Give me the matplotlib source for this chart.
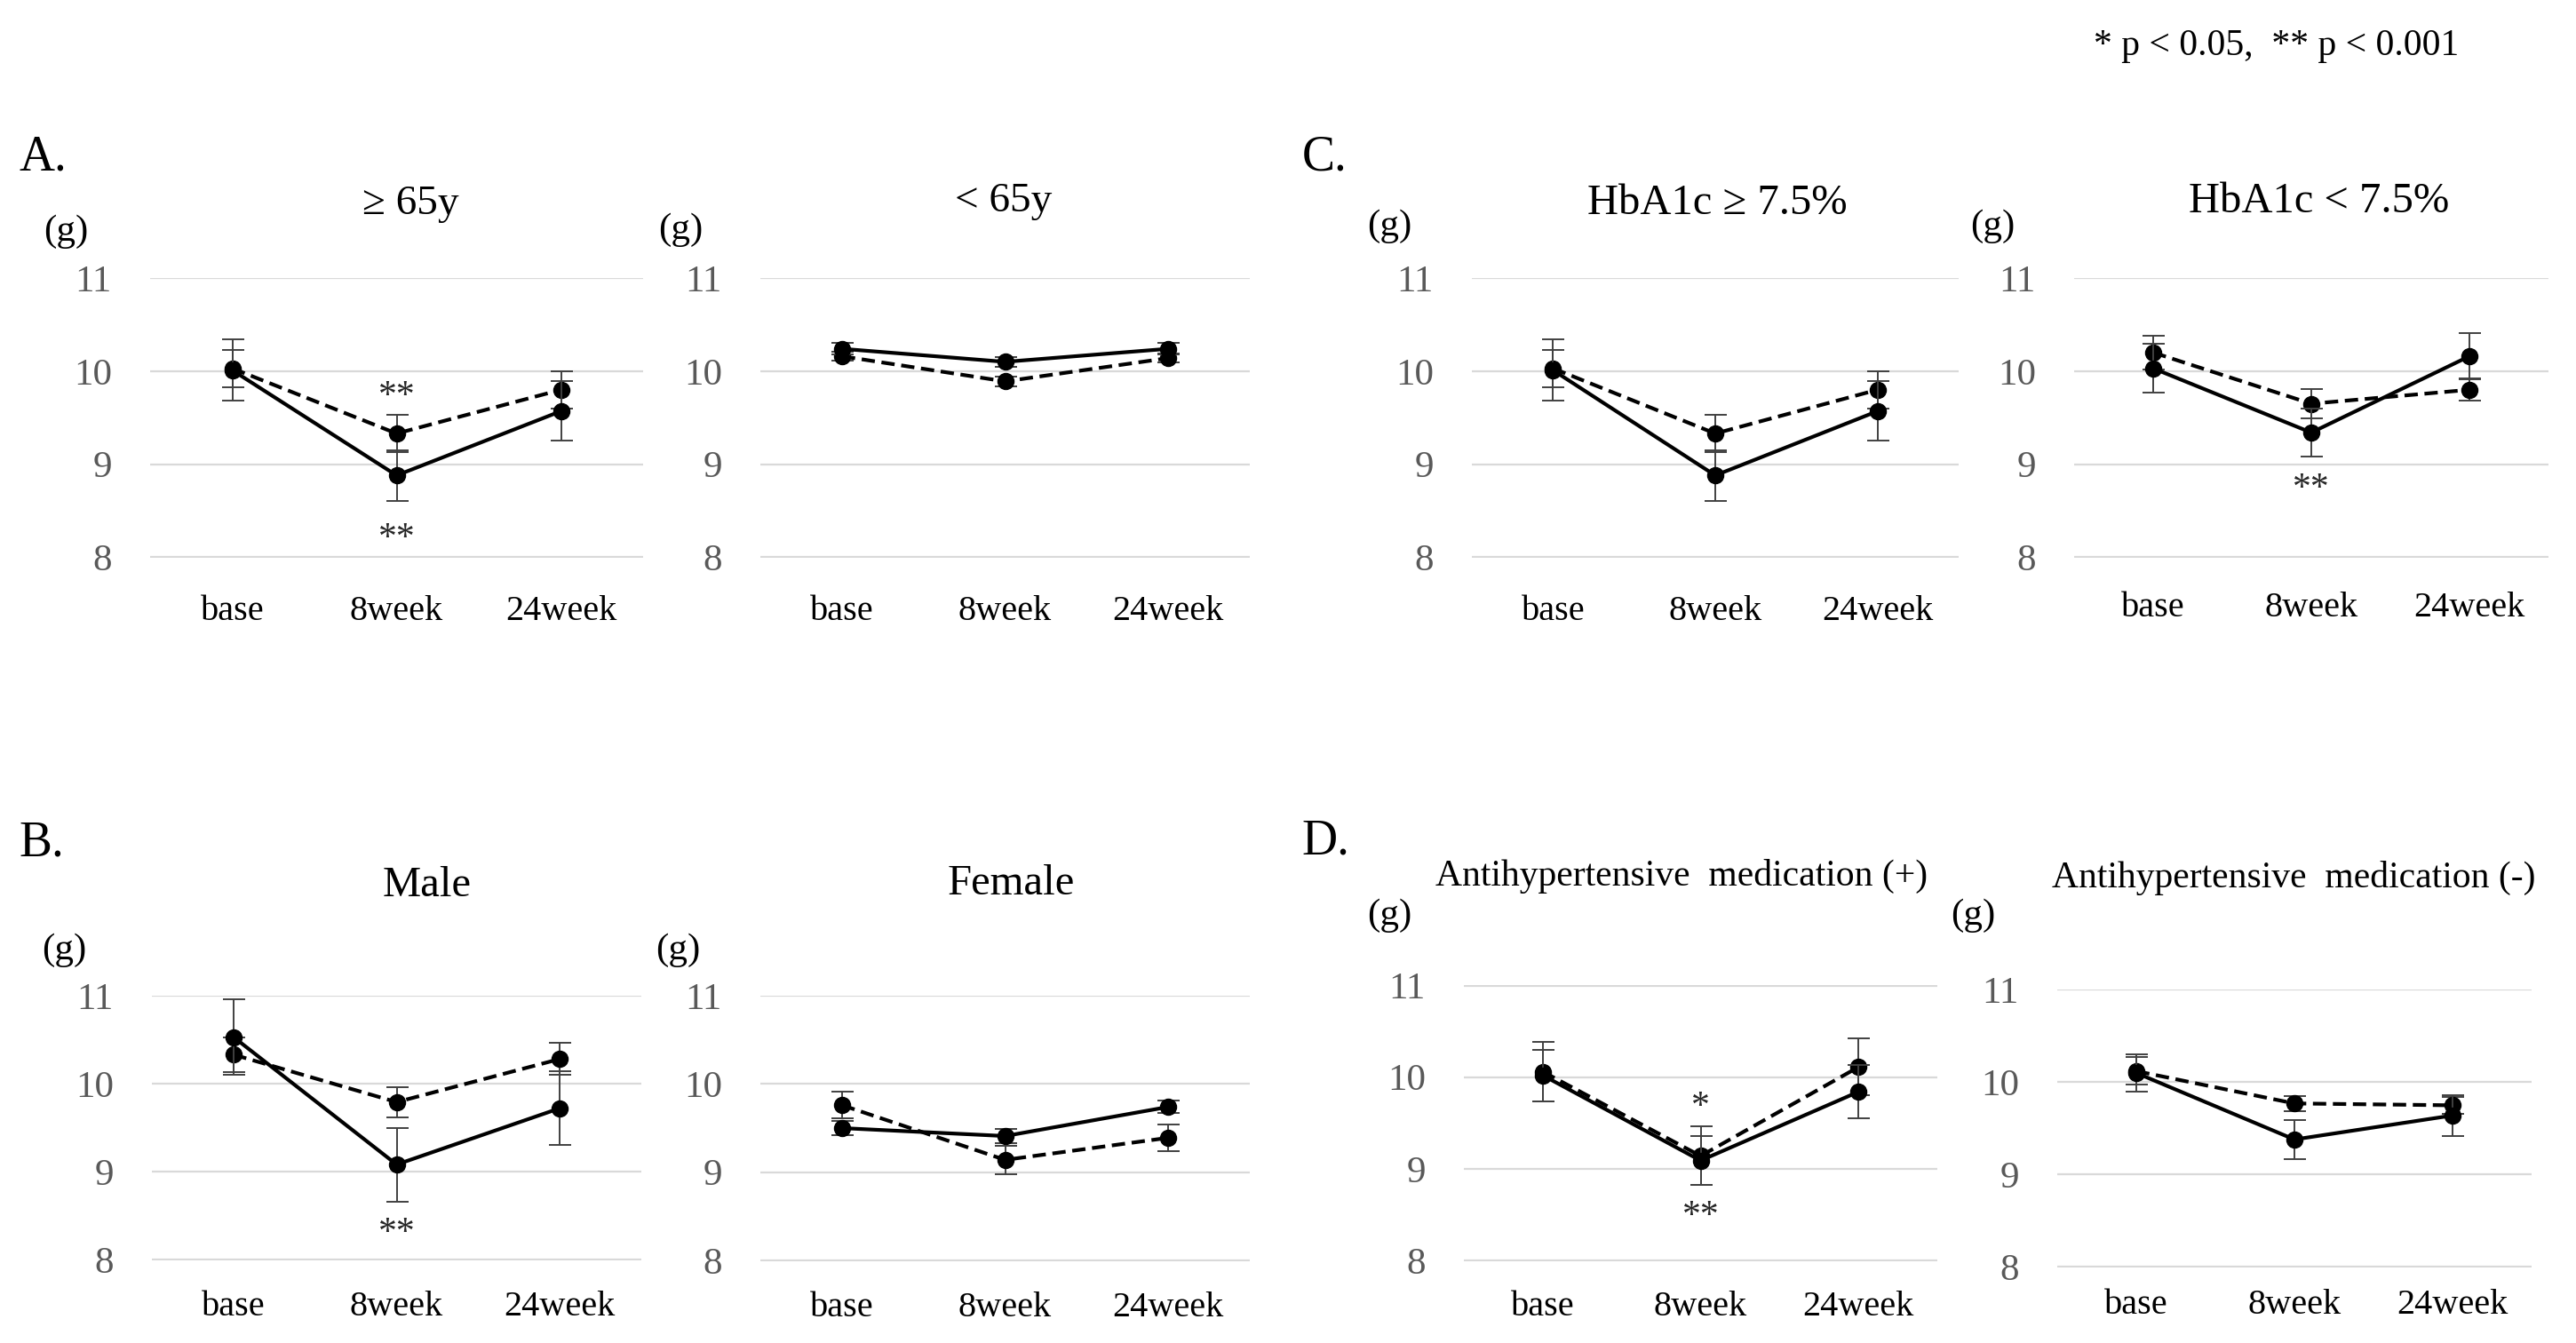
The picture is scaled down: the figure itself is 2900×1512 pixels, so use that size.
import matplotlib
matplotlib.use('Agg')
import matplotlib.pyplot as plt

plt.rcParams['font.family'] = ['Liberation Serif', 'DejaVu Serif']

W, H = 2900, 1512

timepoints = ['base', '8week', '24week']

# mean grip values (g) and error bars, solid / dashed series per panel
a1_solid = [10.01, 8.88, 9.57]
a1_solid_err = [0.33, 0.27, 0.32]
a1_dashed = [10.03, 9.33, 9.80]
a1_dashed_err = [0.20, 0.20, 0.20]

a2_solid = [10.24, 10.10, 10.24]
a2_solid_err = [0.06, 0.05, 0.06]
a2_dashed = [10.16, 9.89, 10.14]
a2_dashed_err = [0.05, 0.05, 0.05]

c1_solid = [10.01, 8.88, 9.57]
c1_solid_err = [0.33, 0.27, 0.32]
c1_dashed = [10.03, 9.33, 9.80]
c1_dashed_err = [0.20, 0.20, 0.20]

c2_solid = [10.03, 9.34, 10.16]
c2_solid_err = [0.26, 0.26, 0.25]
c2_dashed = [10.20, 9.65, 9.80]
c2_dashed_err = [0.18, 0.16, 0.12]

b1_solid = [10.53, 9.08, 9.72]
b1_solid_err = [0.43, 0.42, 0.42]
b1_dashed = [10.33, 9.79, 10.28]
b1_dashed_err = [0.20, 0.17, 0.18]

b2_solid = [9.50, 9.41, 9.74]
b2_solid_err = [0.08, 0.08, 0.07]
b2_dashed = [9.76, 9.14, 9.39]
b2_dashed_err = [0.15, 0.16, 0.15]

d1_solid = [10.02, 9.09, 9.84]
d1_solid_err = [0.28, 0.27, 0.29]
d1_dashed = [10.06, 9.14, 10.11]
d1_dashed_err = [0.32, 0.32, 0.31]

d2_solid = [10.10, 9.38, 9.64]
d2_solid_err = [0.20, 0.21, 0.22]
d2_dashed = [10.12, 9.77, 9.75]
d2_dashed_err = [0.15, 0.08, 0.09]

# significance marks: (x index, y value, text)
a1_marks = [(1, 9.81, '**'), (1, 8.28, '**')]
c2_marks = [(1, 8.82, '**')]
b1_marks = [(1, 8.39, '**')]
d1_marks = [(1, 9.76, '*'), (1, 8.57, '**')]

titles = ['\u2265 65y', '< 65y', 'HbA1c \u2265 7.5%', 'HbA1c < 7.5%',
          'Male', 'Female',
          'Antihypertensive  medication (+)', 'Antihypertensive  medication (-)']


def fx(px):
    return px / W


def fy(py):
    return 1 - py / H


fig = plt.figure(figsize=(W / 100, H / 100), dpi=100)


def panel(box, solid, solid_err, dashed, dashed_err, marks, title, title_xy, title_size, g_xy, xlab_pad=30):
    x0, x1, y0, y1 = box
    ax = fig.add_axes([fx(x0), fy(y1), (x1 - x0) / W, (y1 - y0) / H])
    xs = list(range(len(timepoints)))
    ax.errorbar(xs, dashed, yerr=dashed_err, fmt='o', color='black', ms=13,
                ls=(0, (3.6, 1.8)), lw=3, ecolor='#404040', elinewidth=1.4,
                capsize=9, capthick=1.4, zorder=3)
    ax.errorbar(xs, solid, yerr=solid_err, fmt='o', color='black', ms=13,
                ls='-', lw=3, ecolor='#404040', elinewidth=1.4,
                capsize=9, capthick=1.4, zorder=4)
    for xi, yv, s in marks:
        # asterisks sit high in the line box, so shift down to centre the glyph
        ax.annotate(s, (xi, yv), xytext=(0, -6.5), textcoords='offset points',
                    ha='center', va='center', fontsize=30, color='#262626')
    ax.set_xlim(-0.5, 2.5)
    ax.set_ylim(7.995, 11.005)
    ax.set_yticks([8, 9, 10, 11])
    ax.set_xticks(xs)
    ax.set_xticklabels(timepoints)
    ax.grid(axis='y', color='#d9d9d9', lw=1.6)
    ax.set_axisbelow(True)
    for sp in ax.spines.values():
        sp.set_visible(False)
    ax.tick_params(axis='y', length=0, pad=31, labelsize=31, labelcolor='#595959')
    ax.tick_params(axis='x', length=0, pad=xlab_pad, labelsize=29, labelcolor='black')
    fig.text(fx(title_xy[0]), fy(title_xy[1]), title, ha='center', va='center',
             fontsize=title_size)
    fig.text(fx(g_xy[0]), fy(g_xy[1]), '(g)', ha='center', va='center', fontsize=31)
    return ax


panel((169, 724, 312.5, 628), a1_solid, a1_solid_err, a1_dashed, a1_dashed_err,
      a1_marks, titles[0], (462, 230), 34, (74, 261))
panel((856, 1407, 312.5, 628), a2_solid, a2_solid_err, a2_dashed, a2_dashed_err,
      [], titles[1], (1130, 227), 34, (766, 259))
panel((1657, 2205, 312.5, 628), c1_solid, c1_solid_err, c1_dashed, c1_dashed_err,
      [], titles[2], (1933, 229), 35, (1564, 255))
panel((2335, 2869, 312.5, 628), c2_solid, c2_solid_err, c2_dashed, c2_dashed_err,
      c2_marks, titles[3], (2611, 227), 35, (2243, 255), xlab_pad=27)
panel((171, 722, 1120.5, 1418.5), b1_solid, b1_solid_err, b1_dashed, b1_dashed_err,
      b1_marks, titles[4], (481, 997), 35, (72, 1070), xlab_pad=25)
panel((856, 1407, 1120.5, 1419.6), b2_solid, b2_solid_err, b2_dashed, b2_dashed_err,
      [], titles[5], (1138, 995), 35, (763, 1070), xlab_pad=25)
panel((1648, 2181, 1109, 1419.6), d1_solid, d1_solid_err, d1_dashed, d1_dashed_err,
      d1_marks, titles[6], (1893, 986), 30, (1564, 1031), xlab_pad=24)
panel((2316, 2850, 1113.8, 1427), d2_solid, d2_solid_err, d2_dashed, d2_dashed_err,
      [], titles[7], (2582, 988), 30, (2221, 1031), xlab_pad=17)

# panel letters
for letter, (px, py) in {'A.': (48, 177), 'B.': (47, 950), 'C.': (1491, 177), 'D.': (1492, 948)}.items():
    fig.text(fx(px), fy(py), letter, ha='center', va='center', fontsize=40)

fig.text(fx(2563), fy(52), '* p < 0.05,  ** p < 0.001', ha='center', va='center', fontsize=30)

fig.savefig('out.png', dpi=100, facecolor='white')
